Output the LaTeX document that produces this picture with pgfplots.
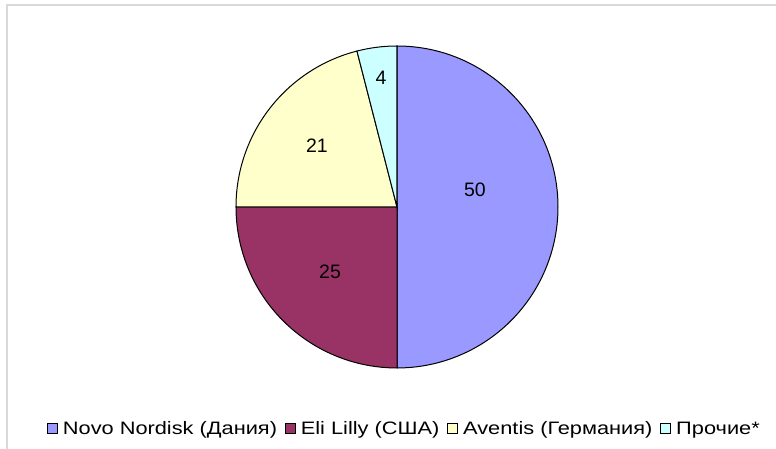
\documentclass[border=0pt]{standalone}
\usepackage{pgfplots}
\pgfplotsset{compat=1.18}
\usepackage{fontspec}
\setmainfont{Liberation Sans}
\definecolor{novo}{HTML}{9999FF}
\definecolor{lilly}{HTML}{993366}
\definecolor{aventis}{HTML}{FFFFCC}
\definecolor{other}{HTML}{CCFFFF}
\definecolor{frame}{HTML}{D9D9D9}
\newcommand{\leg}[1]{\scalebox{1.21}[1]{#1}}
\begin{document}
\begin{tikzpicture}
\useasboundingbox (0,0) rectangle (582pt,336.75pt);
\draw[frame, line width=0.9pt] (5.25pt,0) -- (5.25pt,333pt) -- (582pt,333pt);
% radius of the pie: 161 px = 120.75 pt
\begin{axis}[
  at={(297.75pt,181.5pt)}, anchor=origin,
  x=120.75pt, y=120.75pt,
  xmin=-1, xmax=1, ymin=-1, ymax=1,
  hide axis, clip=false,
  area legend,
  legend columns=4,
  legend style={draw=none, fill=none, at={(0.520,-0.189)}, anchor=center,
    font=\fontsize{13.5}{15}\selectfont,
    nodes={inner xsep=0pt},
    /tikz/every odd column/.append style={column sep=3.75pt},
    /tikz/every even column/.append style={column sep=6pt}},
  legend image code/.code={\draw[#1,draw=black,line width=0.6pt] (0pt,-3.75pt) rectangle (7.5pt,3.75pt);},
]
% shares, %: 50, 25, 21, 4  (1 % = 3.6 degrees, clockwise from the top)
\addplot[fill=novo, draw=black, line width=0.75pt, data cs=polar]
  coordinates {(0,0) (90,1)} arc[start angle=90, delta angle=-50*3.6, radius=120.75pt] -- cycle;
\addlegendentry{\leg{Novo Nordisk (Дания)}}
\addplot[fill=lilly, draw=black, line width=0.75pt, data cs=polar]
  coordinates {(0,0) (-90,1)} arc[start angle=-90, delta angle=-25*3.6, radius=120.75pt] -- cycle;
\addlegendentry{\leg{Eli Lilly (США)}}
\addplot[fill=aventis, draw=black, line width=0.75pt, data cs=polar]
  coordinates {(0,0) (-180,1)} arc[start angle=-180, delta angle=-21*3.6, radius=120.75pt] -- cycle;
\addlegendentry{\leg{Aventis (Германия)}}
\addplot[fill=other, draw=black, line width=0.75pt, data cs=polar]
  coordinates {(0,0) (-255.6,1)} arc[start angle=-255.6, delta angle=-4*3.6, radius=120.75pt] -- cycle;
\addlegendentry{\leg{Прочие*}}
\begin{scope}[every node/.style={font=\fontsize{14.6}{16}\selectfont}]
\node at (axis cs:0.484,0.106) {50};
\node at (axis cs:-0.416,-0.404) {25};
\node at (axis cs:-0.497,0.379) {21};
\node at (axis cs:-0.099,0.801) {4};
\end{scope}
\end{axis}
\end{tikzpicture}
\end{document}
